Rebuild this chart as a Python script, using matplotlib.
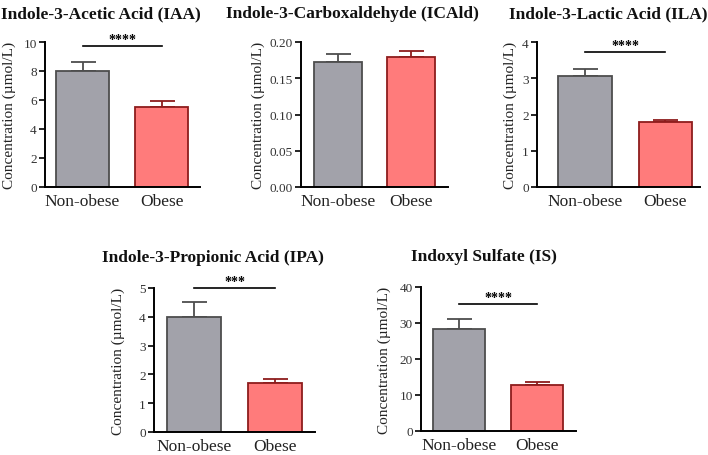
import matplotlib.pyplot as plt
import numpy as np

plt.rcParams['font.family'] = ['Liberation Serif', 'DejaVu Serif']

groups = ["Non-obese", "Obese"]
titles = ["Indole-3-Acetic Acid (IAA)", "Indole-3-Carboxaldehyde (ICAld)",
          "Indole-3-Lactic Acid (ILA)", "Indole-3-Propionic Acid (IPA)",
          "Indoxyl Sulfate (IS)"]
means = [[8.0, 5.5], [0.172, 0.180], [3.05, 1.78], [4.0, 1.7], [28.3, 12.7]]
sems = [[0.6, 0.4], [0.012, 0.008], [0.2, 0.06], [0.5, 0.13], [2.8, 1.0]]
ymax = [10, 0.20, 4, 5, 40]
ystep = [2, 0.05, 1, 1, 10]
yfmt = ["%d", "%.2f", "%d", "%d", "%d"]
sig = ["****", None, "****", "***", "****"]
sig_y = [9.72, None, 3.72, 5.0, 35.3]

# layout in pixels: (spine x, axis end x, top y, bottom y), xlim, title centre, ylabel x
W, H = 708, 456
boxes = [(45, 200, 43, 188), (301, 448, 43, 188), (537, 700, 43, 188),
         (154, 315, 289, 433), (421, 576, 288, 432)]
xlims = [(-0.475, 1.487), (-0.507, 1.507), (-0.6, 1.43), (-0.5, 1.5), (-0.49, 1.5)]
title_pos = [(101, 14), (352, 14), (608, 14), (213, 258), (484, 257)]
ylab_x = [9, 258, 510, 118, 384]

fill = ["#a2a2aa", "#ff7b7b"]
edge = ["#4d4d4d", "#8e1c1c"]

fig = plt.figure(figsize=(W / 100, H / 100), dpi=100)

for i in range(5):
    x0, x1, y0, y1 = boxes[i]
    ax = fig.add_axes([x0 / W, 1 - y1 / H, (x1 - x0) / W, (y1 - y0) / H])
    xs = np.arange(2)
    for j in range(2):
        ax.bar(xs[j], means[i][j], width=0.67, color=fill[j], edgecolor=edge[j],
               linewidth=1.3, zorder=2)
        ax.errorbar(xs[j], means[i][j], yerr=[[0], [sems[i][j]]], fmt='none',
                    ecolor=edge[j], elinewidth=1.3, capsize=9, capthick=1.3, zorder=1)
    ax.set_xlim(*xlims[i])
    ax.set_ylim(0, ymax[i])
    ax.set_yticks(np.arange(0, ymax[i] + ystep[i] / 2, ystep[i]))
    ax.set_yticklabels([yfmt[i] % v for v in ax.get_yticks()], fontsize=9.5,
                       color="#333333")
    ax.set_xticks(xs)
    ax.set_xticklabels(groups, fontsize=12.5, color="#222222")
    ax.tick_params(axis='x', length=0, pad=4)
    ax.tick_params(axis='y', length=4, width=1.2, pad=2)
    for s in ['top', 'right']:
        ax.spines[s].set_visible(False)
    for s in ['left', 'bottom']:
        ax.spines[s].set_linewidth(1.4)
    if sig[i]:
        ax.plot([0, 1], [sig_y[i], sig_y[i]], color="black", lw=1.2, clip_on=False)
        ax.text(0.5, sig_y[i], sig[i], ha='center', va='bottom', fontsize=10,
                fontweight='bold', clip_on=False)
    fig.text(ylab_x[i] / W, 1 - (y0 + y1) / 2 / H, "Concentration (µmol/L)",
             rotation=90, ha='center', va='center', fontsize=11, color="#222222")
    fig.text(title_pos[i][0] / W, 1 - title_pos[i][1] / H, titles[i], ha='center',
             va='center', fontsize=12.5, fontweight='bold', color="#111111")

fig.savefig("out.png", dpi=100)
